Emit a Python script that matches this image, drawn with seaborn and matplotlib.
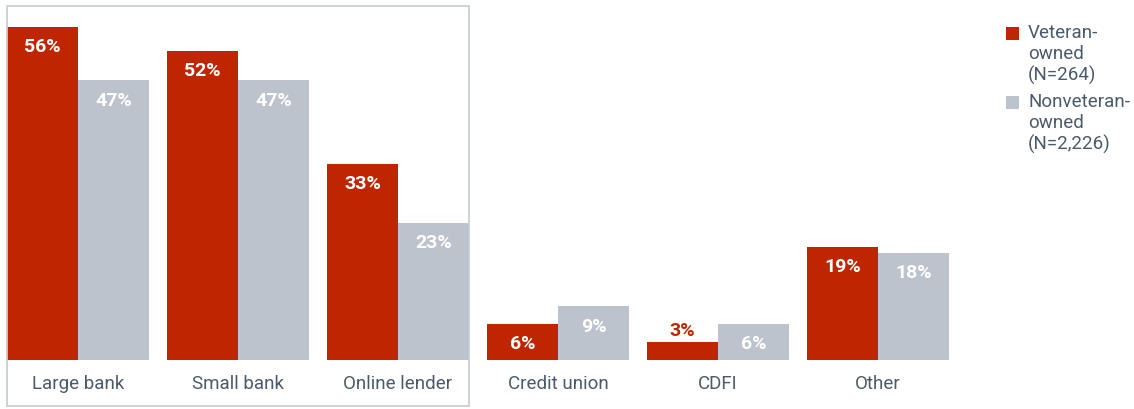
import numpy as np
import pandas as pd
import matplotlib.pyplot as plt
import seaborn as sns
from matplotlib.patches import Rectangle

sns.set_style("white")
plt.rcParams["font.family"] = ["Roboto", "DejaVu Sans"]

categories = ["Large bank", "Small bank", "Online lender", "Credit union", "CDFI", "Other"]
veteran = [56, 52, 33, 6, 3, 19]
nonveteran = [47, 47, 23, 9, 6, 18]
series_names = ["Veteran-owned (N=264)", "Nonveteran-owned (N=2,226)"]
legend_labels = ["Veteran-\nowned\n(N=264)", "Nonveteran-\nowned\n(N=2,226)"]
colors = ["#BF2600", "#BCC3CD"]
text_color = "#4B5A6A"

df = pd.DataFrame({
    "category": categories * 2,
    "value": veteran + nonveteran,
    "group": [series_names[0]] * len(categories) + [series_names[1]] * len(categories),
})

W, H = 1134, 409
fig = plt.figure(figsize=(W / 100, H / 100), dpi=100)
ax = fig.add_axes([7 / W, 49 / H, 942 / W, 354 / H])

bar_w = 0.8875
sns.barplot(data=df, x="category", y="value", hue="group", order=categories,
            hue_order=series_names, palette=colors, width=bar_w, saturation=1,
            linewidth=0, legend=False, ax=ax)

ax.set_xlim(-bar_w / 2, len(categories) - 1 + bar_w / 2)
ax.set_ylim(0, 59.5)
ax.set_xlabel("")
ax.set_ylabel("")
ax.set_yticks([])
ax.tick_params(axis="x", length=0, pad=10.5, labelsize=13.5, labelcolor=text_color)
sns.despine(ax=ax, left=True, bottom=True)

# value labels
for cont, vals in zip(ax.containers, [veteran, nonveteran]):
    for bar, v in zip(cont, vals):
        x = bar.get_x() + bar.get_width() / 2
        if v < 5:
            ax.annotate(f"{v}%", (x, v), xytext=(0, 8), textcoords="offset points",
                        ha="center", va="center", fontsize=14, fontweight="bold",
                        color=colors[0])
        else:
            ax.annotate(f"{v}%", (x, v), xytext=(0, -14.5), textcoords="offset points",
                        ha="center", va="center", fontsize=14, fontweight="bold",
                        color="white")

# frame around the bank / online lender group
fig.add_artist(Rectangle((7 / W, (H - 406) / H), 462 / W, 400 / H,
                         transform=fig.transFigure, fill=False,
                         edgecolor="#C8CDD6", linewidth=1.3))

# legend
for i, (lab, col) in enumerate(zip(legend_labels, colors)):
    ytop = 33 + i * 69
    fig.add_artist(Rectangle((1006 / W, (H - ytop - 6.5) / H), 13 / W, 13 / H,
                             transform=fig.transFigure, color=col, linewidth=0))
    for j, line in enumerate(lab.split("\n")):
        fig.text(1028 / W, (H - ytop - j * 21) / H, line, fontsize=13.5,
                 color=text_color, va="center", ha="left")

fig.savefig("out.png", dpi=100)
